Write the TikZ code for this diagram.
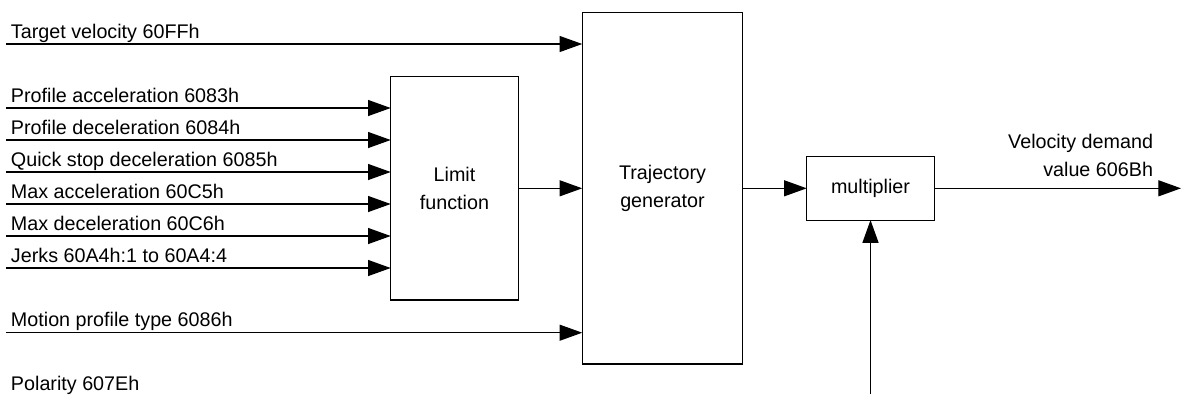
\documentclass[tikz,border=0pt]{standalone}
\usepackage{fontspec}
\setmainfont{Liberation Sans}
\usetikzlibrary{arrows.meta}
\begin{document}
\begin{tikzpicture}[x=0.75pt,y=-0.75pt,
  font=\fontsize{14.8pt}{21.4pt}\selectfont,
  block/.style={draw, line width=0.9pt, inner sep=0pt, outer sep=0pt, align=center},
  lbl/.style={inner sep=0pt, outer sep=0pt, anchor=base west},
  arr/.style={line width=0.9pt, -{Triangle[length=17pt,width=12pt]}}
]
\useasboundingbox (0,0) rectangle (1181,394);

% blocks
\node[block, minimum width=95.7pt, minimum height=167.5pt] (limit) at (454.5,188.3) {Limit\\function};
\node[block, minimum width=120.4pt, minimum height=263.5pt] (traj) at (662.5,188.3) {Trajectory\\generator};
\node[block, minimum width=95.7pt, minimum height=47.7pt] (mult) at (870.5,188.3) {multiplier};

% free ends
\coordinate (tv) at (6,44);
\coordinate (i1) at (6,108);
\coordinate (i2) at (6,140);
\coordinate (i3) at (6,172);
\coordinate (i4) at (6,204);
\coordinate (i5) at (6,236);
\coordinate (i6) at (6,268);
\coordinate (mp) at (6,332.7);
\coordinate (out) at (1181,188.3);
\coordinate (pol) at (870.5,394);

% labels
\node[lbl] (ltv) at (11,38.3) {Target velocity 60FFh};
\node[lbl] (l1) at (11,102.5) {Profile acceleration 6083h};
\node[lbl] (l2) at (11,134.5) {Profile deceleration 6084h};
\node[lbl] (l3) at (11,166.5) {Quick stop deceleration 6085h};
\node[lbl] (l4) at (11,198.5) {Max acceleration 60C5h};
\node[lbl] (l5) at (11,230.5) {Max deceleration 60C6h};
\node[lbl] (l6) at (11,262.5) {Jerks 60A4h:1 to 60A4:4};
\node[lbl] (lmp) at (11,326.7) {Motion profile type 6086h};
\node[lbl] (lpol) at (11,390.7) {Polarity 607Eh};
\node[inner sep=0pt, outer sep=0pt, anchor=base east, align=right] (lout) at (1153,176.7) {Velocity demand\\value 606Bh};

% connectors
\draw[arr] (tv) -- (tv -| traj.west);
\draw[arr] (i1) -- (i1 -| limit.west);
\draw[arr] (i2) -- (i2 -| limit.west);
\draw[arr] (i3) -- (i3 -| limit.west);
\draw[arr] (i4) -- (i4 -| limit.west);
\draw[arr] (i5) -- (i5 -| limit.west);
\draw[arr] (i6) -- (i6 -| limit.west);
\draw[arr] (mp) -- (mp -| traj.west);
\draw[arr] (limit.east) -- (traj.west);
\draw[arr] (traj.east) -- (mult.west);
\draw[arr] (mult.east) -- (out);
\draw[arr] (pol) -- (mult.south);
\end{tikzpicture}
\end{document}
